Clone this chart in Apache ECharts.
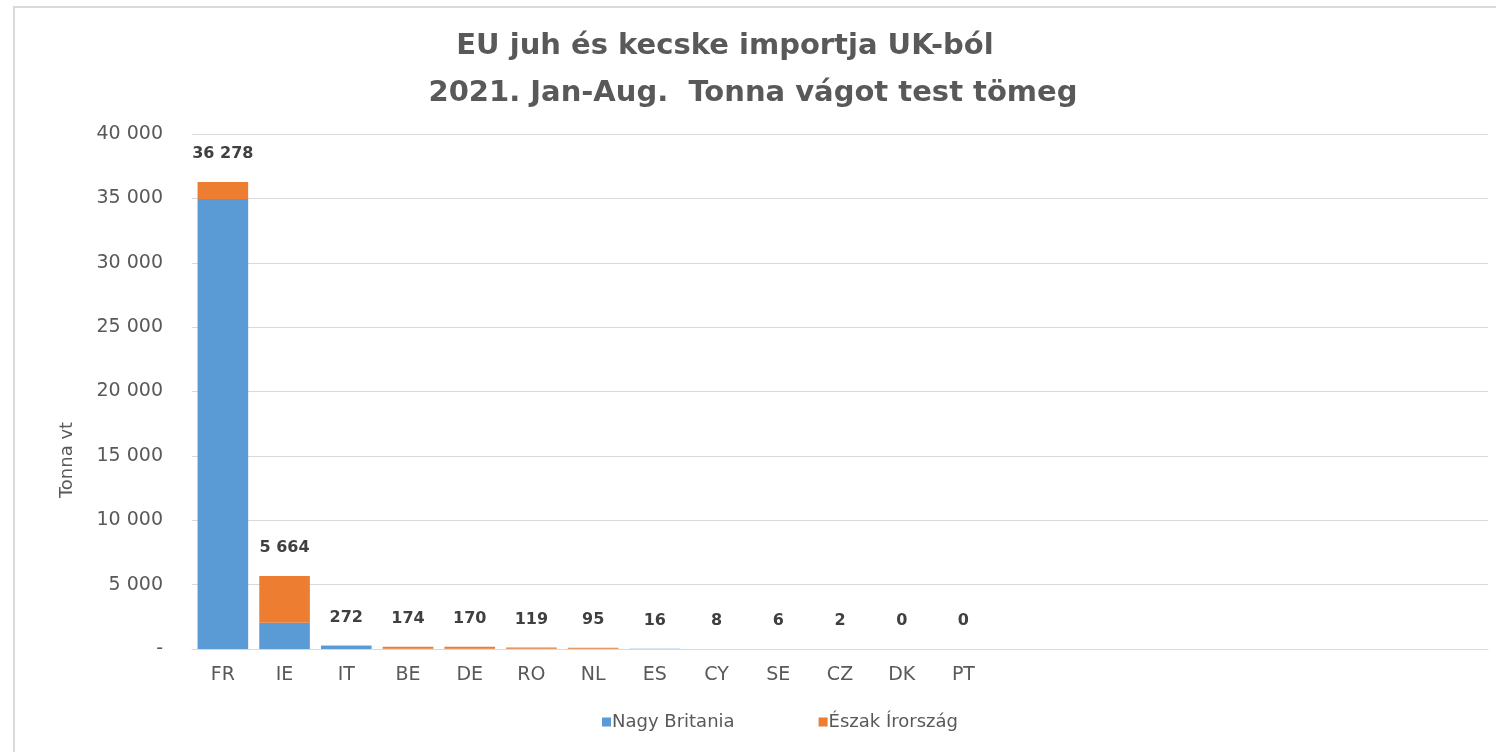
<!DOCTYPE html>
<html>
<head>
<meta charset="utf-8">
<script src="https://cdn.jsdelivr.net/npm/echarts@6/dist/echarts.min.js"></script>
<style>
  html, body { margin: 0; padding: 0; background: #fff; }
  #chart { width: 1496px; height: 752px; }
</style>
</head>
<body>
<div id="chart"></div>
<script>
// országok (a végén üres kategóriák, mint az eredeti Excel diagramon)
var countries = ['FR', 'IE', 'IT', 'BE', 'DE', 'RO', 'NL', 'ES', 'CY', 'SE', 'CZ', 'DK', 'PT',
  '', '', '', '', '', '', '', ''];
// Nagy Britannia (tonna vt)
var nagyBritania = [34950, 2030, 230, 10, 20, 19, 10, 14, 6, 6, 2, 0, 0];
// Észak Írország (tonna vt)
var eszakIrorszag = [1328, 3634, 42, 164, 150, 100, 85, 2, 2, 0, 0, 0, 0];
var yTicks = [0, 5000, 10000, 15000, 20000, 25000, 30000, 35000, 40000];

var totals = nagyBritania.map(function (v, i) { return v + eszakIrorszag[i]; });

function fmt(v) {
  if (v === 0) return '-';
  return String(v).replace(/\B(?=(\d{3})+(?!\d))/g, ' ');
}
function fmtTotal(v) {
  return String(v).replace(/\B(?=(\d{3})+(?!\d))/g, ' ');
}

var FONT = 'DejaVu Sans';
var chartDom = document.getElementById('chart');
var myChart = echarts.init(chartDom);
var option = {
  backgroundColor: '#fff',
  textStyle: { fontFamily: FONT },
  graphic: [{
    type: 'rect',
    shape: { x: 14, y: 7, width: 1500, height: 760 },
    style: { fill: 'none', stroke: '#d9d9d9', lineWidth: 2 },
    silent: true
  }, {
    // tengely cím (Excel-ben lejjebb van, mint a tengely közepe)
    type: 'text',
    x: 67, y: 460,
    rotation: Math.PI / 2,
    style: {
      text: 'Tonna vt', fill: '#595959', fontSize: 18, fontFamily: FONT,
      align: 'center', verticalAlign: 'middle'
    },
    silent: true
  }],
  title: [{
    text: 'EU juh és kecske importja UK-ból',
    left: 720, top: 27, textAlign: 'center',
    textStyle: { fontSize: 29, fontWeight: 'bold', color: '#595959', fontFamily: FONT }
  }, {
    text: '2021. Jan-Aug.  Tonna vágot test tömeg',
    left: 748, top: 74, textAlign: 'center',
    textStyle: { fontSize: 29, fontWeight: 'bold', color: '#595959', fontFamily: FONT }
  }],
  legend: {
    bottom: 16, left: 597,
    itemWidth: 9, itemHeight: 9, itemGap: 84,
    icon: 'rect',
    textStyle: { fontSize: 18, color: '#595959', padding: [0, 0, 0, -4] },
    data: ['Nagy Britania', 'Észak Írország']
  },
  grid: { left: 192, right: 8, top: 134, bottom: 103 },
  xAxis: {
    type: 'category',
    data: countries,
    axisLine: { lineStyle: { color: '#d9d9d9', width: 1 } },
    axisTick: { show: false },
    axisLabel: { color: '#595959', fontSize: 19, margin: 17, interval: 0 }
  },
  yAxis: {
    type: 'value',
    min: yTicks[0], max: yTicks[yTicks.length - 1], interval: 5000,
    axisLine: { show: false },
    axisTick: { show: false },
    splitLine: { lineStyle: { color: '#d9d9d9', width: 1 } },
    axisLabel: { color: '#595959', fontSize: 19, margin: 29, formatter: fmt }
  },
  series: [{
    name: 'Nagy Britania',
    type: 'bar',
    stack: 'total',
    barCategoryGap: '18%',
    itemStyle: { color: '#5b9bd5' },
    data: nagyBritania
  }, {
    name: 'Észak Írország',
    type: 'bar',
    stack: 'total',
    barCategoryGap: '18%',
    itemStyle: { color: '#ed7d31' },
    label: {
      show: true,
      position: 'top',
      distance: 20,
      fontSize: 16,
      fontWeight: 'bold',
      color: '#404040',
      formatter: function (p) { return fmtTotal(totals[p.dataIndex]); }
    },
    data: eszakIrorszag
  }]
};
option && myChart.setOption(option);
</script>
</body>
</html>
